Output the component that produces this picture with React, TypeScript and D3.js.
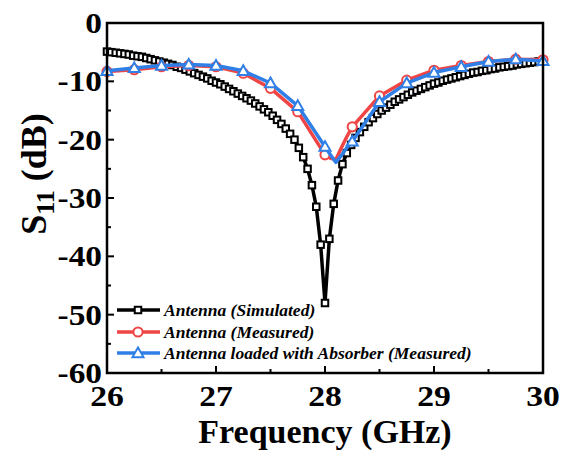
import React from "react";
import * as d3 from "d3";

// ---- data ----
const simFreq: number[] = d3.range(0, 101).map((i) => +(26 + i * 0.04).toFixed(2));
const simValues: number[] = [
  -4.9, -5.0, -5.1, -5.2, -5.3, -5.4, -5.6, -5.7, -5.8, -6.0,
  -6.2, -6.4, -6.6, -6.8, -7.0, -7.2, -7.5, -7.7, -8.0, -8.3,
  -8.6, -8.9, -9.2, -9.5, -9.9, -10.2, -10.5, -10.9, -11.3, -11.7,
  -12.1, -12.5, -12.9, -13.3, -13.8, -14.3, -14.8, -15.3, -15.9, -16.6,
  -17.3, -18.1, -19.0, -20.0, -21.4, -23.0, -25.0, -27.8, -31.5, -38.0,
  -48.0,
  -37.0, -31.0, -27.0, -24.2, -22.3, -20.9, -19.7, -18.7, -17.8, -17.0,
  -16.3, -15.6, -15.0, -14.5, -14.0, -13.5, -13.1, -12.7, -12.3, -11.9,
  -11.6, -11.3, -11.0, -10.7, -10.4, -10.2, -9.9, -9.7, -9.5, -9.3,
  -9.1, -8.9, -8.7, -8.5, -8.4, -8.2, -8.1, -7.9, -7.8, -7.6,
  -7.5, -7.4, -7.3, -7.1, -7.0, -6.9, -6.8, -6.7, -6.6, -6.5,
];
const measFreq: number[] = [26, 26.25, 26.5, 26.75, 27, 27.25, 27.5, 27.75, 28, 28.05, 28.1, 28.15, 28.2, 28.25, 28.5, 28.75, 29, 29.25, 29.5, 29.75, 30];
const measValues: number[] = [-8.3, -8.0, -7.5, -7.3, -7.5, -8.6, -11.2, -15.2, -22.6, -23.2, -23.4, -21.4, -19.5, -17.8, -12.5, -9.8, -8.1, -7.3, -6.6, -6.2, -6.3];
const absValues: number[] = [-8.2, -7.7, -7.3, -7.1, -7.3, -8.2, -10.3, -14.2, -21.2, -22.6, -23.9, -22.7, -21.4, -20.3, -13.5, -10.3, -8.5, -7.5, -6.6, -6.2, -6.5];
const xTicks: number[] = [26, 27, 28, 29, 30];
const yTicks: number[] = [0, -10, -20, -30, -40, -50, -60];
const legendLabels: string[] = [
  "Antenna (Simulated)",
  "Antenna (Measured)",
  "Antenna loaded with Absorber (Measured)",
];

const W = 568, H = 452;
const M = { left: 107, right: 543, top: 23, bottom: 373 };
const BLACK = "#000", RED = "#ef4545", BLUE = "#2f7fe6";
const FONT = "'Liberation Serif', 'Times New Roman', serif";

export default function App() {
  const x = d3.scaleLinear().domain([26, 30]).range([M.left, M.right]);
  const y = d3.scaleLinear().domain([-60, 0]).range([M.bottom, M.top]);
  const line = d3
    .line<[number, number]>()
    .x((d) => x(d[0]))
    .y((d) => y(d[1]));

  const sim: [number, number][] = simFreq.map((f, i) => [f, simValues[i]]);
  const meas: [number, number][] = measFreq.map((f, i) => [f, measValues[i]]);
  const abs: [number, number][] = measFreq.map((f, i) => [f, absValues[i]]);
  const isMarker = (f: number) => Math.abs(f * 4 - Math.round(f * 4)) < 1e-6;

  const sq = 6.5;
  const square = (cx: number, cy: number, k: string | number, color = BLACK) => (
    <rect key={k} x={cx - sq / 2} y={cy - sq / 2} width={sq} height={sq} fill="#fff" stroke={color} strokeWidth={2} />
  );
  const circle = (cx: number, cy: number, k: string | number) => (
    <circle key={k} cx={cx} cy={cy} r={4.6} fill="#fff" stroke={RED} strokeWidth={2} />
  );
  const tri = (cx: number, cy: number, k: string | number) => {
    const s = 5.5;
    return (
      <path key={k} d={`M${cx},${cy - s}L${cx + s},${cy + s * 0.75}L${cx - s},${cy + s * 0.75}Z`} fill="#fff" stroke={BLUE} strokeWidth={2} />
    );
  };

  const xMinor = d3.range(26.5, 30, 0.5);
  const yMinor = d3.range(-55, 0, 5);

  const legendY = [310, 332, 353];

  return (
    <svg width={W} height={H} style={{ position: "absolute", left: 0, top: 0, background: "#fff" }} fontFamily={FONT}>
      <rect width={W} height={H} fill="#fff" />
      {/* ticks */}
      {xMinor.map((t) => {
        const major = Number.isInteger(t);
        return <line key={"xt" + t} x1={x(t)} x2={x(t)} y1={M.bottom} y2={M.bottom - (major ? 7 : 4)} stroke="#000" strokeWidth={2} />;
      })}
      {yMinor.map((t) => {
        const major = t % 10 === 0;
        return <line key={"yt" + t} x1={M.left} x2={M.left + (major ? 7 : 4)} y1={y(t)} y2={y(t)} stroke="#000" strokeWidth={2} />;
      })}

      {/* simulated */}
      <path d={line(sim) || ""} fill="none" stroke={BLACK} strokeWidth={3.5} strokeLinejoin="round" />
      {sim.map((d, i) => square(x(d[0]), y(d[1]), "s" + i))}

      {/* measured */}
      <path d={line(meas) || ""} fill="none" stroke={RED} strokeWidth={3.5} strokeLinejoin="round" />
      {meas.filter((d) => isMarker(d[0])).map((d, i) => circle(x(d[0]), y(d[1]), "m" + i))}

      {/* absorber */}
      <path d={line(abs) || ""} fill="none" stroke={BLUE} strokeWidth={3.5} strokeLinejoin="round" />
      {abs.filter((d) => isMarker(d[0])).map((d, i) => tri(x(d[0]), y(d[1]), "a" + i))}

      {/* frame */}
      <rect x={M.left} y={M.top} width={M.right - M.left} height={M.bottom - M.top} fill="none" stroke="#000" strokeWidth={2.5} />

      {/* tick labels */}
      {xTicks.map((t) => (
        <text key={"xl" + t} transform={`translate(${x(t)},406) scale(1.18,1)`} textAnchor="middle" fontSize={28.5} fontWeight="bold">
          {t}
        </text>
      ))}
      {yTicks.map((t) => (
        <text key={"yl" + t} transform={`translate(102,${y(t)}) scale(1.15,1)`} dy="0.35em" textAnchor="end" fontSize={29} fontWeight="bold">
          {t}
        </text>
      ))}

      {/* axis titles */}
      <text x={325} y={443} textAnchor="middle" fontSize={34} fontWeight="bold">
        Frequency (GHz)
      </text>
      <text transform="translate(46,174) rotate(-90)" textAnchor="middle" fontSize={36} fontWeight="bold">
        S<tspan fontSize={26} dy={8}>11</tspan>
        <tspan dy={-8}> (dB)</tspan>
      </text>

      {/* legend */}
      {legendLabels.map((lab, i) => {
        const ly = legendY[i];
        const color = [BLACK, RED, BLUE][i];
        const cx = 138;
        return (
          <g key={"lg" + i}>
            <line x1={117} x2={160} y1={ly} y2={ly} stroke={color} strokeWidth={3.5} />
            {i === 0 ? square(cx, ly, "ls") : i === 1 ? circle(cx, ly, "lc") : tri(cx, ly, "lt")}
            <text x={164} y={ly} dy="0.35em" fontSize={17.5} fontWeight="bold" fontStyle="italic">
              {lab}
            </text>
          </g>
        );
      })}
    </svg>
  );
}
